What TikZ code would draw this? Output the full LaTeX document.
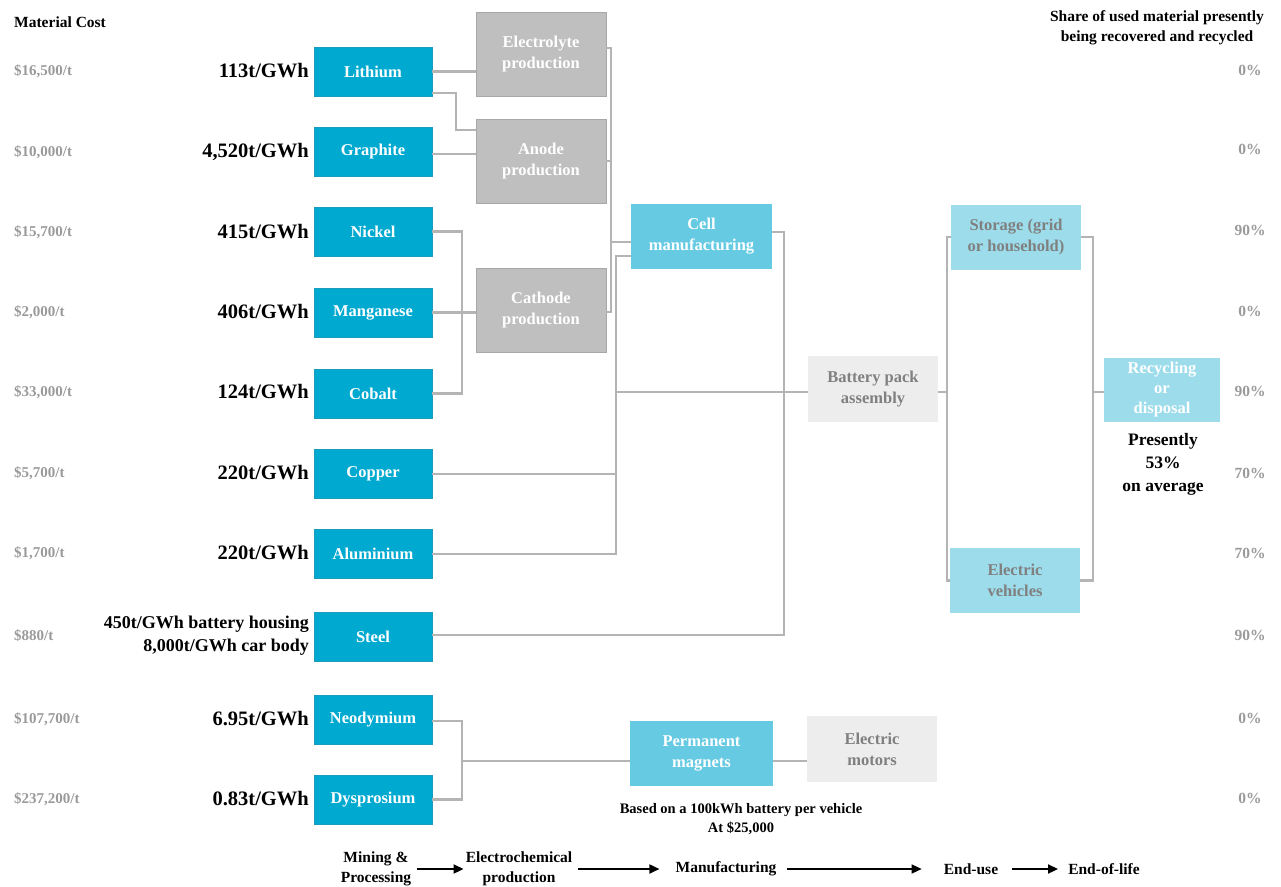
\documentclass[tikz,border=0pt]{standalone}
\usepackage{fontspec}
\setmainfont{Liberation Serif}
\usetikzlibrary{arrows.meta}

\definecolor{matc}{HTML}{00A9CF}
\definecolor{matb}{HTML}{1B9CBC}
\definecolor{procc}{HTML}{BFBFBF}
\definecolor{procb}{HTML}{A8A8A8}
\definecolor{cellc}{HTML}{66CAE3}
\definecolor{useb}{HTML}{9CDCEB}
\definecolor{palec}{HTML}{EDEDED}
\definecolor{linec}{HTML}{B4B4B4}
\definecolor{pricec}{HTML}{9A9A9A}
\definecolor{dimtext}{HTML}{808080}

\newcommand\boxfont{\bfseries\fontsize{16.5}{21}\selectfont}
\newcommand\qtyfont{\bfseries\fontsize{20.5}{23}\selectfont}
\newcommand\pricefont{\bfseries\fontsize{15}{16}\selectfont}
\newcommand\headfont{\bfseries\fontsize{15.5}{20.5}\selectfont}

\tikzset{
  matbox/.style={fill=matc, draw=matb, line width=0.5pt, minimum width=118pt,
    minimum height=49pt, inner sep=0pt, text=white, font=\boxfont, align=center},
  procbox/.style={fill=procc, draw=procb, line width=0.6pt, minimum width=130pt,
    minimum height=84pt, inner sep=0pt, text=white, font=\boxfont, align=center},
  cellbox/.style={fill=cellc, minimum width=141pt, minimum height=65pt,
    inner sep=0pt, text=white, font=\boxfont, align=center},
  usebox/.style={fill=useb, minimum width=130pt, minimum height=65pt,
    inner sep=0pt, text=dimtext, font=\boxfont, align=center},
  palebox/.style={fill=palec, minimum width=130pt, minimum height=66pt,
    inner sep=0pt, text=dimtext, font=\boxfont, align=center},
  price/.style={anchor=west, text=pricec, font=\pricefont, inner sep=0pt},
  qty/.style={anchor=east, text=black, font=\qtyfont, inner sep=0pt, align=right},
  pct/.style={text=pricec, font=\bfseries\fontsize{15.5}{16}\selectfont, inner sep=0pt},
  link/.style={draw=linec, line width=2.2pt},
  stage/.style={font=\bfseries\fontsize{15.5}{20}\selectfont, align=center, inner sep=0pt},
  flow/.style={line width=1.8pt, -{Triangle[length=10pt,width=9pt]}}
}

\begin{document}
\begin{tikzpicture}[x=1pt,y=-1pt]
\useasboundingbox (0,0) rectangle (1281,886);

% column headings
\node[anchor=west, inner sep=0pt, font=\headfont] (mcost) at (14,22) {Material Cost};
\node[inner sep=0pt, font=\headfont, align=center] (share) at (1157,28)
  {Share of used material presently\\being recovered and recycled};

% raw materials
\node[matbox] (li) at (373,71.5)  {Lithium};
\node[matbox] (gr) at (373,151.5) {Graphite};
\node[matbox] (ni) at (373,231.5) {Nickel};
\node[matbox] (mn) at (373,312.5) {Manganese};
\node[matbox] (co) at (373,393.5) {Cobalt};
\node[matbox] (cu) at (373,474)   {Copper};
\node[matbox] (al) at (373,554)   {Aluminium};
\node[matbox] (st) at (373,636.5) {Steel};
\node[matbox] (nd) at (373,719.5) {Neodymium};
\node[matbox] (dy) at (373,799.5) {Dysprosium};

% prices
\node[price] (p1)  at (14,71)  {\$16,500/t};
\node[price] (p2)  at (14,152) {\$10,000/t};
\node[price] (p3)  at (14,232) {\$15,700/t};
\node[price] (p4)  at (14,312) {\$2,000/t};
\node[price] (p5)  at (14,392) {\$33,000/t};
\node[price] (p6)  at (14,473) {\$5,700/t};
\node[price] (p7)  at (14,553) {\$1,700/t};
\node[price] (p8)  at (14,636) {\$880/t};
\node[price] (p9)  at (14,719) {\$107,700/t};
\node[price] (p10) at (14,799) {\$237,200/t};

% intensities
\node[qty] (q1)  at (309,71)  {113t/GWh};
\node[qty] (q2)  at (309,152) {4,520t/GWh};
\node[qty] (q3)  at (309,232) {415t/GWh};
\node[qty] (q4)  at (309,312) {406t/GWh};
\node[qty] (q5)  at (309,392) {124t/GWh};
\node[qty] (q6)  at (309,473) {220t/GWh};
\node[qty] (q7)  at (309,553) {220t/GWh};
\node[qty, font=\bfseries\fontsize{18}{23}\selectfont] (q8) at (309,636)
  {450t/GWh battery housing\\8,000t/GWh car body};
\node[qty] (q9)  at (309,719) {6.95t/GWh};
\node[qty] (q10) at (309,799) {0.83t/GWh};

% recovery shares
\node[pct] (r1)  at (1250,70)  {0\%};
\node[pct] (r2)  at (1250,149) {0\%};
\node[pct] (r3)  at (1250,230) {90\%};
\node[pct] (r4)  at (1250,311) {0\%};
\node[pct] (r5)  at (1250,391) {90\%};
\node[pct] (r6)  at (1250,473) {70\%};
\node[pct] (r7)  at (1250,553) {70\%};
\node[pct] (r8)  at (1250,635) {90\%};
\node[pct] (r9)  at (1250,718) {0\%};
\node[pct] (r10) at (1250,798) {0\%};

% electrochemical production
\node[procbox] (el) at (541,54)  {Electrolyte\\production};
\node[procbox] (an) at (541,161) {Anode\\production};
\node[procbox] (ca) at (541,310) {Cathode\\production};

% manufacturing and use
\node[cellbox] (ce) at (701.5,236.5) {Cell\\manufacturing};
\node[palebox] (bp) at (873,389) {Battery pack\\assembly};
\node[usebox] (sg) at (1016,237) {Storage (grid\\or household)};
\node[usebox] (ev) at (1015,580.5) {Electric\\vehicles};
\node[usebox, text=white, minimum width=116pt, minimum height=64pt,
  font=\bfseries\fontsize{16.5}{20}\selectfont] (rc) at (1162,390)
  {Recycling\\or\\disposal};
\node[cellbox, minimum width=143pt] (pm) at (701.5,753.5) {Permanent\\magnets};
\node[palebox] (em) at (872,749) {Electric\\motors};

\node[inner sep=0pt, font=\bfseries\fontsize{17.5}{23}\selectfont, align=center] (avg)
  at (1163,464) {Presently\\53\%\\on average};
\node[inner sep=0pt, font=\bfseries\fontsize{14.5}{19}\selectfont, align=center] (basis)
  at (741,819) {Based on a 100kWh battery per vehicle\\At \$25,000};

% junctions
\coordinate (bus1) at (611,242);
\coordinate (bus2) at (616,392);
\coordinate (bus4) at (947,392);
\coordinate (bus5) at (1093,392);
\coordinate (bus6) at (462,761);

% links
\draw[link] (li.east) -- (li.east -| el.west);
\draw[link] ([yshift=-21.5pt]li.east) -- ++(24,0) |- ([yshift=31pt]an.west);
\draw[link] ([yshift=-2.5pt]gr.east) -- ([yshift=-2.5pt]gr.east -| an.west);
\draw[link] (ni.east) -- ++(30,0) |- (co.east);
\draw[link] (mn.east) -- (mn.east -| ca.west);
\draw[link] ([yshift=6pt]el.east) -| (bus1) |- ([yshift=-2pt]ca.east);
\draw[link] (an.east) -- (an.east -| bus1);
\draw[link] (bus1) -- (bus1 -| ce.west);
\draw[link] ([yshift=-19.5pt]ce.west) -| (bus2) |- (al.east);
\draw[link] (cu.east) -- (cu.east -| bus2);
\draw[link] (bus2) -- (bus2 -| bp.west);
\draw[link] ([yshift=4.5pt]ce.east) -- ++(12,0) |- ([yshift=1.5pt]st.east);
\draw[link] (bp.east |- bus4) -- (bus4);
\draw[link] (sg.west) -- (sg.west -| bus4) -- (ev.west -| bus4) -- (ev.west);
\draw[link] (sg.east) -- (sg.east -| bus5) -- (ev.east -| bus5) -- (ev.east);
\draw[link] (bus5) -- (bus5 -| rc.west);
\draw[link] ([yshift=-1.5pt]nd.east) -- ([yshift=-1.5pt]nd.east -| bus6) |- (dy.east);
\draw[link] (bus6) -- (bus6 -| pm.west);
\draw[link] ([yshift=-7.5pt]pm.east) -- ([yshift=-7.5pt]pm.east -| em.west);

% value chain stages
\node[stage] (s1) at (376,869) {Mining \&\\Processing};
\node[stage] (s2) at (519,869) {Electrochemical\\production};
\node[stage] (s3) at (726,869) {Manufacturing};
\node[stage] (s4) at (971,869) {End-use};
\node[stage] (s5) at (1104,869) {End-of-life};
\draw[flow] ([xshift=6pt]s1.east |- s3.west) -- ([xshift=-2pt]s2.west |- s3.west);
\draw[flow] ([xshift=6pt]s2.east |- s3.west) -- ([xshift=-16pt]s3.west);
\draw[flow, line width=1.4pt] ([xshift=10pt]s3.east) -- ([xshift=-22pt]s4.west);
\draw[flow] ([xshift=14pt]s4.east) -- ([xshift=-10pt]s5.west);
\end{tikzpicture}
\end{document}
